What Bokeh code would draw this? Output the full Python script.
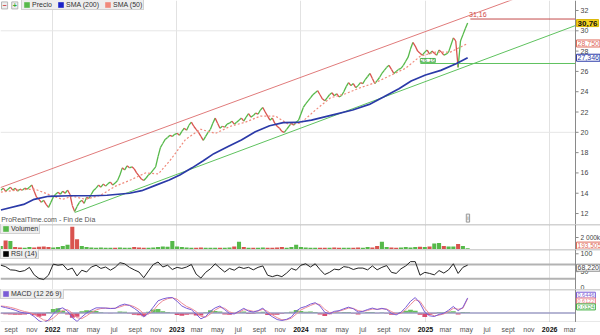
import numpy as np
import pandas as pd
from bokeh.plotting import figure
from bokeh.layouts import column
from bokeh.models import (Range1d, FixedTicker, Label, Legend, LegendItem, Span, Grid)
from bokeh.embed import file_html
from bokeh.resources import INLINE
from bokeh.core.properties import value

# ---------------- data ----------------
ORIGEN = "2021-08-01"
X_FIN = 1690          # last day of the plotting area (days from ORIGEN)
X_VENTANA = X_FIN * 600 / 575   # the right-hand scale strip continues the same time scale

precio_inicio = "2021-08-02"  # weekly closes
precio_cierre = [
    14.3, 14.5, 14.2, 14.4, 14.6, 14.3, 14.5, 14.2, 14.4, 14.3,
    14.5, 14.4, 14.6, 14.8, 14.2, 13.6, 13.4, 13.1, 13.3, 12.9,
    12.6, 13.1, 13.6, 13.9, 14.1, 13.9, 14.2, 14.0, 14.3, 13.9,
    12.8, 12.2, 12.7, 13.1, 13.3, 13.0, 13.6, 13.5, 13.9, 14.3,
    14.5, 14.8, 14.6, 14.9, 14.7, 14.95, 15.1, 14.8, 15.0, 15.25,
    15.8, 16.5, 16.3, 16.7, 16.5, 16.6, 16.4, 16.0, 15.7, 15.4,
    15.25, 15.5, 15.8, 16.0, 16.3, 16.6, 17.6, 18.5, 18.9, 19.3,
    19.5, 19.7, 19.6, 19.8, 19.9, 19.7, 20.1, 20.4, 20.2, 20.7,
    21.0, 20.6, 20.3, 20.0, 19.6, 19.2, 19.6, 20.0, 20.3, 20.9,
    21.4, 20.9, 20.4, 20.6, 20.5, 20.8, 20.9, 21.1, 20.8, 21.0,
    21.2, 21.4, 21.1, 21.5, 21.85, 21.5, 21.65, 21.9, 21.8, 22.2,
    22.45, 22.0, 21.6, 21.2, 21.4, 20.9, 20.6, 20.4, 20.1, 20.0,
    20.3, 20.6, 20.9, 20.7, 21.0, 21.2, 21.8, 22.45, 22.8, 23.1,
    23.4, 23.7, 23.9, 24.1, 23.7, 23.3, 23.1, 23.4, 23.7, 23.9,
    23.6, 23.8, 23.5, 23.6, 24.0, 24.5, 24.9, 24.6, 24.8, 24.4,
    24.6, 24.9, 24.8, 25.2, 25.5, 25.8, 25.3, 24.8, 25.1, 25.4,
    25.8, 26.1, 26.4, 26.6, 26.2, 25.8, 26.0, 26.2, 26.3, 26.6,
    27.0, 27.4, 28.2, 28.85, 28.5, 28.0, 27.8, 27.6, 27.9, 28.1,
    27.7, 28.0, 27.8, 27.6, 28.1, 27.9, 27.6, 27.7, 27.9, 28.6,
    29.3, 29.0, 26.4, 29.0, 29.6, 30.2, 30.76,
]

sma200_fechas = ["2021-08-02", "2021-10-08", "2021-11-08", "2021-12-20", "2022-02-20",
                 "2022-05-01", "2022-06-10", "2022-08-15", "2022-09-20", "2022-11-01",
                 "2022-12-10", "2023-01-10", "2023-02-15", "2023-03-20", "2023-04-20",
                 "2023-06-01", "2023-07-10", "2023-08-20", "2023-10-01", "2023-11-10",
                 "2023-12-20", "2024-02-01", "2024-04-01", "2024-06-01", "2024-07-20",
                 "2024-09-01", "2024-10-15", "2024-11-20", "2025-01-01", "2025-02-15",
                 "2025-04-01", "2025-05-05"]
sma200 = [12.35, 12.9, 13.4, 13.7, 13.75, 13.75, 13.8, 14.0, 14.25, 14.8,
          15.3, 15.8, 16.5, 17.2, 17.9, 18.6, 19.25, 20.05, 20.65, 20.95,
          20.97, 21.2, 21.7, 22.2, 22.75, 23.5, 24.3, 25.05, 25.65, 26.1,
          26.75, 27.346]

sma50_fechas = ["2021-08-02", "2021-09-28", "2021-11-11", "2021-12-26", "2022-01-30",
                "2022-02-28", "2022-04-08", "2022-05-22", "2022-07-05", "2022-08-18",
                "2022-10-01", "2022-11-08", "2022-12-14", "2023-01-27", "2023-03-12",
                "2023-04-25", "2023-06-08", "2023-07-22", "2023-09-04", "2023-10-18",
                "2023-11-25", "2023-12-31", "2024-02-13", "2024-03-28", "2024-05-11",
                "2024-06-24", "2024-08-07", "2024-09-20", "2024-11-03", "2024-12-17",
                "2025-01-30", "2025-03-15", "2025-05-05"]
sma50 = [14.1, 14.35, 14.4, 13.8, 13.4, 13.7, 13.4, 13.8, 14.7, 15.3,
         16.0, 15.9, 17.3, 19.3, 20.3, 19.9, 20.6, 21.0, 21.6, 21.6,
         20.8, 20.9, 22.2, 23.4, 23.8, 24.4, 24.9, 25.6, 26.3, 27.5,
         27.9, 27.9, 28.75]

tl_roja_fechas = ["2021-08-01", "2026-03-18"]
tl_roja = [14.56, 35.35]
tl_verde_fechas = ["2022-03-07", "2026-03-18"]
tl_verde = [12.10, 30.52]
nivel_max_fechas = ["2025-05-13", "2026-03-18"]
nivel_max = 31.16
nivel_sop_fechas = ["2024-12-17", "2026-03-18"]
nivel_sop = 26.78

indic_inicio = "2021-08-02"  # two-weekly indicator samples
volumen_k = [
    600, 1500, 1400, 400, 350, 300, 400, 350, 450, 500,
    400, 350, 400, 600, 800, 3800, 1700, 600, 400, 350,
    300, 350, 300, 280, 300, 350, 300, 300, 400, 350,
    300, 300, 350, 400, 500, 450, 1400, 500, 400, 350,
    300, 300, 350, 300, 280, 300, 300, 300, 350, 500,
    1300, 400, 300, 280, 300, 350, 300, 300, 350, 400,
    300, 400, 800, 400, 350, 300, 300, 280, 300, 300,
    350, 300, 280, 300, 300, 350, 300, 400, 350, 600,
    1300, 400, 350, 300, 350, 400, 350, 400, 450, 400,
    500, 1000, 1100, 600, 500, 500, 900, 600, 193.505,
]
rsi14 = [
    68, 64, 55, 54, 50, 53, 62, 41, 31, 28,
    40, 71, 68, 70, 55, 60, 38, 54, 49, 63,
    68, 59, 63, 54, 62, 75, 72, 62, 55, 49,
    33, 52, 70, 77, 63, 68, 56, 62, 59, 63,
    70, 43, 32, 48, 58, 72, 60, 49, 59, 54,
    63, 59, 62, 55, 62, 66, 40, 36, 40, 36,
    46, 59, 54, 68, 72, 63, 72, 56, 42, 48,
    57, 55, 64, 62, 56, 60, 60, 55, 66, 55,
    62, 67, 48, 45, 58, 66, 78, 78, 40, 48,
    45, 41, 53, 46, 55, 72, 45, 62, 68.22,
]
macd_linea = [
    0.28, 0.23, 0.18, 0.12, 0.04, 0.0, -0.02, -0.15, -0.33, -0.42,
    -0.3, -0.05, 0.16, 0.22, 0.08, -0.2, -0.36, -0.17, 0.0, 0.12,
    0.22, 0.22, 0.21, 0.19, 0.2, 0.32, 0.38, 0.32, 0.2, 0.05,
    -0.17, 0.0, 0.25, 0.52, 0.6, 0.65, 0.66, 0.5, 0.3, 0.2,
    0.14, -0.05, -0.25, -0.15, 0.08, 0.22, 0.3, 0.14, -0.02, -0.04,
    0.08, 0.2, 0.08, 0.04, 0.1, 0.21, -0.02, -0.16, -0.28, -0.32,
    -0.27, -0.17, 0.08, 0.22, 0.28, 0.38, 0.44, 0.3, 0.03, -0.03,
    0.07, 0.1, 0.18, 0.25, 0.18, 0.04, 0.07, 0.15, 0.21, 0.15,
    0.2, 0.15, -0.02, -0.08, 0.03, 0.24, 0.5, 0.66, 0.42, 0.03,
    -0.12, -0.15, -0.06, -0.01, 0.12, 0.28, 0.1, 0.24, 0.6446,
]
macd_senal = [
    0.30, 0.28, 0.24, 0.19, 0.12, 0.06, 0.02, -0.05, -0.17, -0.30,
    -0.33, -0.22, -0.04, 0.12, 0.14, 0.0, -0.2, -0.24, -0.12, 0.02,
    0.13, 0.19, 0.21, 0.2, 0.2, 0.26, 0.33, 0.34, 0.27, 0.15,
    -0.03, -0.05, 0.1, 0.35, 0.52, 0.61, 0.65, 0.59, 0.42, 0.28,
    0.19, 0.06, -0.14, -0.18, -0.04, 0.13, 0.24, 0.2, 0.05, -0.02,
    0.03, 0.14, 0.12, 0.07, 0.08, 0.16, 0.07, -0.08, -0.2, -0.29,
    -0.29, -0.22, -0.05, 0.13, 0.23, 0.32, 0.4, 0.36, 0.16, 0.02,
    0.03, 0.08, 0.14, 0.21, 0.2, 0.1, 0.07, 0.11, 0.17, 0.16,
    0.18, 0.17, 0.06, -0.04, -0.01, 0.14, 0.36, 0.56, 0.5, 0.2,
    -0.03, -0.12, -0.09, -0.04, 0.06, 0.2, 0.16, 0.2, 0.6122,
]
rsi_niveles = [70, 30]

precio_ticks = [12, 14, 16, 18, 20, 22, 24, 26, 28, 30, 32]
precio_textos = ["12", "14", "16", "18", "20", "22", "24", "26", "28", "30", "32"]
precio_grid = [20, 30]
volumen_ticks = [2000]
volumen_textos = ["2 000k"]
rsi_ticks = [50, 100]
rsi_textos = ["50", "100"]
rsi_tick_cero = [0]
rsi_texto_cero = ["0"]

meses_fechas = ["2021-09-01", "2021-11-01", "2022-03-01", "2022-05-01", "2022-07-01",
                "2022-09-01", "2022-11-01", "2023-03-01", "2023-05-01", "2023-07-01",
                "2023-09-01", "2023-11-01", "2024-03-01", "2024-05-01", "2024-07-01",
                "2024-09-01", "2024-11-01", "2025-03-01", "2025-05-01", "2025-07-01",
                "2025-09-01", "2025-11-01", "2026-03-01"]
meses_textos = ["sept", "nov", "mar", "may", "jul", "sept", "nov", "mar", "may", "jul",
                "sept", "nov", "mar", "may", "jul", "sept", "nov", "mar", "may", "jul",
                "sept", "nov", "mar"]
anios_fechas = ["2022-01-01", "2023-01-01", "2024-01-01", "2025-01-01", "2026-01-01"]
anios_textos = ["2022", "2023", "2024", "2025", "2026"]

# ---------------- helpers ----------------
FONT = "Liberation Sans"
VERDE = "#56b94a"
ROJO = "#d9534f"
GRIS_EJE = "#8a8a8a"
LEG_ALTO = 10
origen = pd.Timestamp(ORIGEN)


def dias(fechas):
    return np.asarray((pd.to_datetime(pd.Series(fechas)) - origen).dt.days, dtype=float)


x_range = Range1d(0, X_VENTANA)
anios_x = [float(v) for v in dias(anios_fechas)]
X_LAB = X_FIN + 3
X_TICK = X_FIN + 9
X_TXT = X_FIN + 15


def panel(frame_h, y_rng, separador=True):
    p = figure(frame_width=600, frame_height=frame_h, x_range=x_range, y_range=y_rng,
               x_axis_type=None, y_axis_type=None, output_backend="svg",
               toolbar_location=None, min_border=0)
    p.outline_line_color = None
    p.border_fill_color = "white"
    p.background_fill_color = "white"
    p.add_layout(Grid(dimension=0, ticker=FixedTicker(ticks=anios_x),
                      grid_line_color="#e2e2e2", grid_line_width=1))
    if separador:
        p.add_layout(Span(location=y_rng.end, dimension="width",
                          line_color="#a5a5a5", line_width=1.5))
    # scale line on the right of the plotting area
    p.add_layout(Span(location=X_FIN, dimension="height", line_color=GRIS_EJE, line_width=1))
    return p


def escala(p, ticks, textos, size="7px", base="middle"):
    n = len(ticks)
    p.segment(x0=np.full(n, X_FIN), y0=ticks, x1=np.full(n, X_TICK), y1=ticks,
              line_color=GRIS_EJE, line_width=1)
    p.text(x=np.full(n, X_TXT), y=ticks, text=textos, text_align="left",
           text_baseline=base, text_font=value(FONT), text_font_size=size,
           text_color="#444444")


def horizontales(p, niveles, color, ancho):
    n = len(niveles)
    p.segment(x0=np.zeros(n), y0=niveles, x1=np.full(n, X_FIN), y1=niveles,
              line_color=color, line_width=ancho)


def leyenda(p, items, x0=0):
    leg = Legend(items=items, location=(x0, p.frame_height - LEG_ALTO),
                 orientation="horizontal",
                 label_text_font=FONT, label_text_font_size="7px", label_text_color="#333333",
                 glyph_width=7, glyph_height=7, label_height=7, label_standoff=2,
                 padding=1, spacing=5, margin=0,
                 border_line_color="#b5b5b5", background_fill_color="#eeeeee",
                 background_fill_alpha=1.0)
    p.add_layout(leg)


def icono(p, x, y, color):
    # zero-size square anchored on a real data point: draws nothing, gives the legend swatch
    return p.quad(left=[x], right=[x], top=[y], bottom=[y], fill_color=color, line_color=None)


def caja(p, y, texto, color, borde, fondo="white", negrita=False, size="7px"):
    p.add_layout(Label(x=X_LAB, y=y, text=texto, text_font=FONT, text_font_size=size,
                       text_color=color, text_baseline="middle",
                       text_font_style="bold" if negrita else "normal",
                       background_fill_color=fondo, border_line_color=borde, padding=1))


# ---------------- price panel ----------------
pp = panel(224, Range1d(10.92, 32.985), separador=False)
horizontales(pp, precio_grid, "#e6e6e6", 1)
escala(pp, precio_ticks, precio_textos)

fechas_sem = pd.date_range(precio_inicio, periods=len(precio_cierre), freq="7D")
xs = dias(fechas_sem)
c = np.array(precio_cierre, dtype=float)
col = np.where(c[1:] >= c[:-1], VERDE, ROJO)
pp.segment(x0=xs[:-1], y0=c[:-1], x1=xs[1:], y1=c[1:], line_color=col, line_width=1.3)

pp.line(dias(tl_roja_fechas), tl_roja, line_color="#e07b7b", line_width=1)
pp.line(dias(tl_verde_fechas), tl_verde, line_color="#5fc25f", line_width=1)
pp.line(dias(nivel_max_fechas), [nivel_max, nivel_max], line_color="#c44b4b", line_width=1)
pp.line(dias(nivel_sop_fechas), [nivel_sop, nivel_sop], line_color="#5fc25f", line_width=1)
pp.line(dias(sma50_fechas), sma50, line_color="#f08a7c", line_width=1.2, line_dash="2 2")
pp.line(dias(sma200_fechas), sma200, line_color="#2b3aa8", line_width=1.7)

pp.add_layout(Label(x=dias([nivel_max_fechas[0]])[0] - 4, y=nivel_max + 0.45, text="31,16",
                    text_font=FONT, text_font_size="7px", text_color="#d04848",
                    text_baseline="middle"))
pp.add_layout(Label(x=dias([nivel_sop_fechas[0]])[0], y=nivel_sop + 0.3, text="26,16",
                    text_font=FONT, text_font_size="6px", text_color="#3f9a3f",
                    text_baseline="middle", border_line_color="#5fc25f", padding=0))
pp.add_layout(Label(x=2, y=11.45, text="ProRealTime.com - Fin de Día", text_font=FONT,
                    text_font_size="7px", text_color="#555555", text_baseline="middle"))
pp.add_layout(Label(x=dias(["2025-05-01"])[0], y=11.55, text="i", text_font=FONT,
                    text_font_size="6px", text_color="#666666", text_baseline="middle",
                    background_fill_color="#eeeeee", border_line_color="#999999", padding=1))
# zoom buttons of the toolbar strip
pp.add_layout(Label(x=3, y=32.5, text="−", text_font=FONT, text_font_size="7px",
                    text_color="#cc3333", text_baseline="middle", text_font_style="bold",
                    background_fill_color="#eeeeee", border_line_color="#b5b5b5", padding=1))
pp.add_layout(Label(x=33, y=32.5, text="+", text_font=FONT, text_font_size="7px",
                    text_color="#33aa33", text_baseline="middle", text_font_style="bold",
                    background_fill_color="#eeeeee", border_line_color="#b5b5b5", padding=1))

caja(pp, c[-1], "30,76", "#111111", "#d8b400", fondo="#f3d21f", negrita=True, size="8px")
caja(pp, sma50[-1], "28,750", "#e06a5a", "#e06a5a")
caja(pp, sma200[-1], "27,346", "#2b3aa8", "#2b3aa8")

leyenda(pp, [LegendItem(label="Precio", renderers=[icono(pp, xs[-1], c[-1], VERDE)]),
             LegendItem(label="SMA (200)",
                        renderers=[icono(pp, xs[-1], sma200[-1], "#1a22c8")]),
             LegendItem(label="SMA (50)",
                        renderers=[icono(pp, xs[-1], sma50[-1], "#f08a7c")])], x0=21)

# ---------------- volume panel ----------------
fechas_ind = pd.date_range(indic_inicio, periods=len(volumen_k), freq="14D")
xi = dias(fechas_ind)
pv = panel(25, Range1d(0, 4170))
escala(pv, volumen_ticks, volumen_textos, size="6.5px")
c2 = c[::2]
col_v = [VERDE] + [VERDE if c2[i] >= c2[i - 1] else ROJO for i in range(1, len(c2))]
pv.vbar(x=xi, top=volumen_k, bottom=0, width=12, fill_color=col_v, line_color=None)
caja(pv, 650, "193,505", "#e06a5a", "#e06a5a", size="6.5px")
leyenda(pv, [LegendItem(label="Volumen",
                        renderers=[icono(pv, xi[-1], volumen_k[-1], VERDE)])])

# ---------------- RSI panel ----------------
pr = panel(40, Range1d(0, 112))
escala(pr, rsi_ticks, rsi_textos)
escala(pr, rsi_tick_cero, rsi_texto_cero, base="bottom")
horizontales(pr, rsi_niveles, "#b3b3b3", 2)
pr.line(xi, rsi14, line_color="#222222", line_width=1)
caja(pr, 61, "68,220", "#444444", "#888888")
leyenda(pr, [LegendItem(label="RSI (14)",
                        renderers=[icono(pr, xi[-1], rsi14[-1], "#000000")])])

# ---------------- MACD panel ----------------
pm = panel(33, Range1d(-0.406, 1.004))
m = np.array(macd_linea)
s = np.array(macd_senal)
hist = m - s
pm.vbar(x=xi, top=hist, bottom=0, width=14,
        fill_color=[VERDE if h >= 0 else "#d63a63" for h in hist], line_color=None,
        fill_alpha=0.9)
horizontales(pm, [0], "#9c9cc4", 1.5)
pm.line(xi, s, line_color="#ec8a96", line_width=1)
pm.line(xi, m, line_color="#7a5cd6", line_width=1)
pm.add_layout(Span(location=-0.406, dimension="width", line_color="#a5a5a5", line_width=1.5))
caja(pm, 0.76, "0,6446", "#7a5cd6", "#7a5cd6", size="5.5px")
caja(pm, 0.51, "0,6122", "#ec7a86", "#ec7a86", size="5.5px")
caja(pm, 0.26, "0,0324", "#3fae3f", "#3fae3f", size="5.5px")
leyenda(pm, [LegendItem(label="MACD (12 26 9)",
                        renderers=[icono(pm, xi[-1], m[-1], "#7a5cd6")])])

# ---------------- time labels ----------------
pt = figure(frame_width=600, frame_height=13, x_range=x_range,
            y_range=Range1d(0, 1), x_axis_type=None, y_axis_type=None, output_backend="svg",
            toolbar_location=None, min_border=0)
pt.outline_line_color = None
mx = dias(meses_fechas)
pt.text(x=mx, y=np.full(len(mx), 0.5), text=meses_textos, text_align="center",
        text_baseline="middle", text_font=value(FONT), text_font_size="7px",
        text_color="#555555")
ax_ = dias(anios_fechas)
pt.text(x=ax_, y=np.full(len(ax_), 0.5), text=anios_textos, text_align="center",
        text_baseline="middle", text_font=value(FONT), text_font_size="7px",
        text_font_style="bold", text_color="#111111")

layout = column(pp, pv, pr, pm, pt, spacing=0)
open("out.html", "w").write(file_html(layout, INLINE))
